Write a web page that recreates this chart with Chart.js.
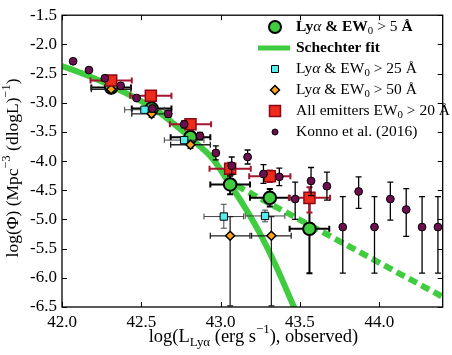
<!DOCTYPE html>
<html>
<head>
<meta charset="utf-8">
<script src="https://cdn.jsdelivr.net/npm/chart.js@4"></script>
<style>
  html, body { margin: 0; padding: 0; background: #fff; }
</style>
</head>
<body>
<canvas id="myChart" width="452" height="355"></canvas>
<script>
// Schechter fit (solid) and its extension (dashed)
const fitX = [42.0, 42.15, 42.3, 42.45, 42.6, 42.75, 42.85, 42.95, 43.05, 43.15, 43.25, 43.35, 43.47];
const fitY = [-2.37, -2.52, -2.70, -2.90, -3.14, -3.46, -3.70, -3.96, -4.36, -4.78, -5.25, -5.80, -6.55];
const extX = [43.1, 44.45];
const extY = [-4.42, -6.40];

// Lya & EW0 > 5
const ew5X = [42.31, 42.565, 42.81, 43.06, 43.31, 43.56];
const ew5Y = [-2.74, -3.10, -3.59, -4.40, -4.63, -5.16];
const ew5Xerr = [0.125, 0.125, 0.125, 0.125, 0.125, 0.125];
const ew5Up = [0.08, 0.08, 0.1, 0.15, 0.15, 0.45];
const ew5Lo = [0.08, 0.08, 0.1, 0.17, 0.15, 0.76];

// Lya & EW0 > 25
const ew25X = [42.52, 42.77, 43.02, 43.28];
const ew25Y = [-3.12, -3.64, -4.95, -4.94];
const ew25Xerr = [0.125, 0.125, 0.125, 0.125];
const ew25Up = [0.05, 0.05, 0.21, 0.1];
const ew25Lo = [0.05, 0.05, 0.2, 0.1];

// Lya & EW0 > 50
const ew50X = [42.31, 42.565, 42.81, 43.06, 43.32];
const ew50Y = [-2.77, -3.19, -3.72, -5.28, -5.28];
const ew50Xerr = [0.125, 0.125, 0.125, 0.125, 0.125];
const ew50Up = [0.06, 0.06, 0.06, 0.33, 0.33];
const ew50Lo = [0.06, 0.06, 0.06, 1.2, 1.2];

// All emitters EW0 > 20
const allX = [42.31, 42.56, 42.81, 43.06, 43.31, 43.56];
const allY = [-2.62, -2.88, -3.37, -4.13, -4.26, -4.63];
const allXerr = [0.13, 0.13, 0.13, 0.13, 0.13, 0.13];
const allUp = [0.06, 0.06, 0.07, 0.1, 0.1, 0.18];
const allLo = [0.06, 0.06, 0.07, 0.1, 0.1, 0.25];

// Konno et al. (2016)
const konX = [42.07, 42.17, 42.27, 42.37, 42.47, 42.57, 42.67, 42.77, 42.87, 42.97, 43.07, 43.17,
  43.27, 43.37, 43.47, 43.57, 43.67, 43.77, 43.87, 43.97, 44.07, 44.17, 44.27, 44.37];
const konY = [-2.29, -2.44, -2.58, -2.71, -2.92, -3.10, -3.19, -3.37, -3.57, -3.86, -4.08, -3.93,
  -4.22, -4.27, -4.65, -4.34, -4.43, -5.13, -4.52, -5.13, -4.65, -4.83, -5.13, -5.13];
const konUp = [0.04, 0.04, 0.04, 0.04, 0.04, 0.06, 0.06, 0.06, 0.06, 0.12, 0.15, 0.12,
  0.16, 0.15, 0.29, 0.23, 0.24, 0.52, 0.25, 0.52, 0.29, 0.36, 0.52, 0.52];
const konLo = [0.04, 0.04, 0.04, 0.04, 0.04, 0.06, 0.06, 0.06, 0.06, 0.12, 0.15, 0.12,
  0.16, 0.15, 0.35, 0.25, 0.24, 0.79, 0.29, 0.79, 0.36, 0.46, 0.79, 0.79];

const green = "#3fcc3f";
const FONT = '"Liberation Serif", "Times New Roman", serif';

const pts = (xs, ys) => xs.map((x, i) => ({ x: x, y: ys[i] }));

// error bars, drawn just before each dataset's markers
const errorBars = {
  id: "errorBars",
  beforeDatasetDraw: (chart, args) => {
    const ds = chart.data.datasets[args.index];
    if (!ds.errUp) return;
    const { ctx, chartArea } = chart;
    const sx = chart.scales.x, sy = chart.scales.y;
    ctx.save();
    ctx.beginPath();
    ctx.rect(chartArea.left, chartArea.top, chartArea.right - chartArea.left, chartArea.bottom - chartArea.top);
    ctx.clip();
    ctx.strokeStyle = ds.errColor;
    ctx.lineWidth = ds.errWidth;
    const cap = ds.cap;
    ds.data.forEach((p, i) => {
      const px = sx.getPixelForValue(p.x);
      const y0 = sy.getPixelForValue(p.y + ds.errUp[i]);
      const y1 = sy.getPixelForValue(p.y - ds.errLo[i]);
      ctx.beginPath();
      ctx.moveTo(px, y0); ctx.lineTo(px, y1);
      ctx.moveTo(px - cap, y0); ctx.lineTo(px + cap, y0);
      ctx.moveTo(px - cap, y1); ctx.lineTo(px + cap, y1);
      if (ds.errX) {
        const py = sy.getPixelForValue(p.y);
        const x0 = sx.getPixelForValue(p.x - ds.errX[i]);
        const x1 = sx.getPixelForValue(p.x + ds.errX[i]);
        ctx.moveTo(x0, py); ctx.lineTo(x1, py);
        ctx.moveTo(x0, py - cap); ctx.lineTo(x0, py + cap);
        ctx.moveTo(x1, py - cap); ctx.lineTo(x1, py + cap);
      }
      ctx.stroke();
    });
    ctx.restore();
  },
};

function fontOf(p, size) {
  return (p.i ? "italic " : "") + (p.b ? "bold " : "") + (size * (p.s || 1)).toFixed(1) + "px " + FONT;
}

function drawRich(ctx, parts, x, y, size, align) {
  let w = 0;
  parts.forEach((p) => { ctx.font = fontOf(p, size); w += ctx.measureText(p.t).width; });
  let cx = align === "center" ? x - w / 2 : x;
  ctx.textAlign = "left";
  ctx.textBaseline = "middle";
  parts.forEach((p) => {
    ctx.font = fontOf(p, size);
    ctx.fillText(p.t, cx, y + (p.dy || 0) * size);
    cx += ctx.measureText(p.t).width;
  });
}

function marker(ctx, type, x, y) {
  ctx.save();
  ctx.beginPath();
  if (type === "circle") {
    ctx.arc(x, y, 6, 0, Math.PI * 2);
    ctx.fillStyle = green; ctx.strokeStyle = "#000"; ctx.lineWidth = 2;
  } else if (type === "line") {
    ctx.fillStyle = green;
    ctx.fillRect(x - 17, y - 2.5, 32, 5);
    ctx.restore();
    return;
  } else if (type === "cyan") {
    ctx.rect(x - 3.5, y - 3.5, 7, 7);
    ctx.fillStyle = "#55eeee"; ctx.strokeStyle = "#000"; ctx.lineWidth = 1;
  } else if (type === "diamond") {
    ctx.moveTo(x - 4.5, y); ctx.lineTo(x, y - 4.5); ctx.lineTo(x + 4.5, y); ctx.lineTo(x, y + 4.5); ctx.closePath();
    ctx.fillStyle = "#ffa31a"; ctx.strokeStyle = "#000"; ctx.lineWidth = 1.5;
  } else if (type === "red") {
    ctx.rect(x - 5.5, y - 5.5, 11, 11);
    ctx.fillStyle = "#ee2a1a"; ctx.strokeStyle = "#8b0a1a"; ctx.lineWidth = 1.5;
  } else {
    ctx.arc(x, y, 3, 0, Math.PI * 2);
    ctx.fillStyle = "#6b0f4f"; ctx.strokeStyle = "#000"; ctx.lineWidth = 1;
  }
  ctx.fill(); ctx.stroke();
  ctx.restore();
}

const sub = (t, extra) => Object.assign({ t: t, s: 0.7, dy: 0.3 }, extra || {});
const sup = (t) => ({ t: t, s: 0.7, dy: -0.38 });

const legendRows = [
  ["circle", [{ t: "Ly", b: 1 }, { t: "α", i: 1 }, { t: " & EW", b: 1 }, sub("0"), { t: " > 5 " }, { t: "Å", b: 1 }]],
  ["line", [{ t: "Schechter fit", b: 1 }]],
  ["cyan", [{ t: "Ly" }, { t: "α", i: 1 }, { t: " & EW" }, sub("0"), { t: " > 25 Å" }]],
  ["diamond", [{ t: "Ly" }, { t: "α", i: 1 }, { t: " & EW" }, sub("0"), { t: " > 50 Å" }]],
  ["red", [{ t: "All emitters EW" }, sub("0"), { t: " > 20 Å" }]],
  ["konno", [{ t: "Konno et al. (2016)" }]],
];

const decor = {
  id: "decor",
  afterDraw: (chart) => {
    const { ctx, chartArea } = chart;
    const { left, right, top, bottom } = chartArea;
    const sx = chart.scales.x, sy = chart.scales.y;
    ctx.save();
    ctx.strokeStyle = "#000";
    ctx.lineWidth = 1;
    ctx.beginPath();
    sx.ticks.forEach((t) => {
      const px = Math.round(sx.getPixelForValue(t.value)) + 0.5;
      ctx.moveTo(px, bottom); ctx.lineTo(px, bottom - 5);
      ctx.moveTo(px, top); ctx.lineTo(px, top + 5);
    });
    sy.ticks.forEach((t) => {
      const py = Math.round(sy.getPixelForValue(t.value)) + 0.5;
      ctx.moveTo(left, py); ctx.lineTo(left + 5, py);
      ctx.moveTo(right, py); ctx.lineTo(right - 5, py);
    });
    ctx.stroke();
    ctx.lineWidth = 1.3;
    ctx.strokeRect(left, top, right - left, bottom - top);

    ctx.fillStyle = "#000";
    // axis titles
    drawRich(ctx, [{ t: "log(L" }, sub("Lyα"), { t: " (erg s" }, sup("−1"), { t: "), observed)" }],
      (left + right) / 2 + 1, 337, 18.5, "center");
    ctx.save();
    ctx.translate(13, 168);
    ctx.rotate(-Math.PI / 2);
    drawRich(ctx, [{ t: "log(Φ) (Mpc" }, sup("−3"), { t: " (dlogL)" }, sup("−1"), { t: ")" }], 0, 0, 17.5, "center");
    ctx.restore();

    // legend
    legendRows.forEach((row, i) => {
      const y = 27 + i * 21;
      marker(ctx, row[0], 275, y);
      ctx.fillStyle = "#000";
      drawRich(ctx, row[1], 296, y, 15.5, "left");
    });
    ctx.restore();
  },
};

const config = {
  type: "scatter",
  data: {
    datasets: [
      {
        data: pts(konX, konY),
        order: 0,
        pointStyle: "circle",
        pointRadius: 3.9,
        pointBackgroundColor: "#6b0f4f",
        pointBorderColor: "#000",
        pointBorderWidth: 1,
        errUp: konUp, errLo: konLo, errColor: "#000", errWidth: 1.3, cap: 3,
      },
      {
        data: pts(allX, allY),
        order: 1,
        pointStyle: "rect",
        pointRadius: 7.8,
        pointBackgroundColor: "#ee2a1a",
        pointBorderColor: "#8b0a1a",
        pointBorderWidth: 1.5,
        errX: allXerr, errUp: allUp, errLo: allLo, errColor: "#a3162e", errWidth: 2, cap: 3,
      },
      {
        data: pts(ew50X, ew50Y),
        order: 2,
        pointStyle: "rectRot",
        pointRadius: 4.5,
        pointBackgroundColor: "#ffa31a",
        pointBorderColor: "#000",
        pointBorderWidth: 1.5,
        errX: ew50Xerr, errUp: ew50Up, errLo: ew50Lo, errColor: "#222", errWidth: 1.3, cap: 3,
      },
      {
        data: pts(ew25X, ew25Y),
        order: 3,
        pointStyle: "rect",
        pointRadius: 5.2,
        pointBackgroundColor: "#55eeee",
        pointBorderColor: "#000",
        pointBorderWidth: 1,
        errX: ew25Xerr, errUp: ew25Up, errLo: ew25Lo, errColor: "#444", errWidth: 1, cap: 3,
      },
      {
        data: pts(ew5X, ew5Y),
        order: 4,
        pointStyle: "circle",
        pointRadius: 6.3,
        pointBackgroundColor: green,
        pointBorderColor: "#000",
        pointBorderWidth: 2,
        errX: ew5Xerr, errUp: ew5Up, errLo: ew5Lo, errColor: "#000", errWidth: 2, cap: 3,
      },
      {
        data: pts(fitX, fitY),
        order: 5,
        showLine: true,
        pointRadius: 0,
        borderColor: green,
        borderWidth: 6,
        cubicInterpolationMode: "monotone",
      },
      {
        data: pts(extX, extY),
        order: 6,
        showLine: true,
        pointRadius: 0,
        borderColor: green,
        borderWidth: 6,
        borderDash: [9, 5],
        borderCapStyle: "butt",
      },
    ],
  },
  plugins: [errorBars, decor],
  options: {
    responsive: false,
    animation: false,
    events: [],
    layout: { padding: { top: 10, right: 4, left: 0, bottom: 0 } },
    plugins: { legend: { display: false }, tooltip: { enabled: false } },
    scales: {
      x: {
        type: "linear",
        min: 42.0,
        max: 44.4,
        grid: { display: false, drawTicks: false },
        border: { display: false },
        afterFit: (s) => { s.height = 48; },
        ticks: {
          stepSize: 0.5,
          includeBounds: false,
          padding: 5,
          color: "#000",
          font: { family: FONT, size: 17 },
          maxRotation: 0,
          callback: (v) => v.toFixed(1),
        },
      },
      y: {
        type: "linear",
        min: -6.5,
        max: -1.5,
        grid: { display: false, drawTicks: false },
        border: { display: false },
        afterFit: (s) => { s.width = 62; },
        ticks: {
          stepSize: 0.5,
          padding: 5,
          color: "#000",
          font: { family: FONT, size: 17 },
          callback: (v) => v.toFixed(1),
        },
      },
    },
  },
};

var myChart = new Chart(document.getElementById("myChart"), config);
</script>
</body>
</html>
